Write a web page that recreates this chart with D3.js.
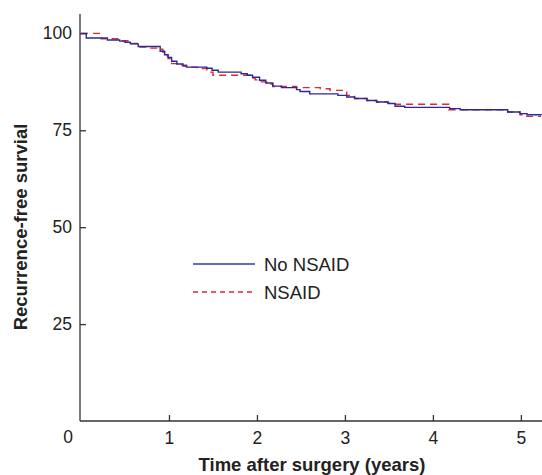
<!DOCTYPE html>
<html>
<head>
<meta charset="utf-8">
<script src="https://cdn.jsdelivr.net/npm/d3@7"></script>
<style>
  body { margin: 0; background: #fff; }
  text { font-family: "Liberation Sans", Arial, sans-serif; fill: #222; }
</style>
</head>
<body>
<svg id="chart" width="542" height="475"></svg>
<script>
// step times (years) and survival (%)
var noNsaidT = [0, 0.06, 0.30, 0.44, 0.50, 0.56, 0.65, 0.90, 0.95, 0.99, 1.03, 1.09, 1.16, 1.20, 1.43, 1.49, 1.56,
  1.82, 1.89, 1.95, 2.03, 2.10, 2.18, 2.28, 2.45, 2.49, 2.60, 2.92, 3.02, 3.11, 3.25, 3.36, 3.49, 3.57, 3.68,
  4.19, 4.31, 4.85, 4.99, 5.07, 5.23];
var noNsaidS = [100, 98.8, 98.3, 98.0, 97.7, 97.3, 96.6, 95.4, 94.5, 93.8, 92.8, 92.1, 91.6, 91.3, 91.0, 90.5, 90.0,
  89.6, 89.2, 88.7, 87.9, 87.2, 86.4, 86.0, 85.5, 85.0, 84.4, 84.0, 83.6, 83.2, 82.7, 82.3, 81.9, 81.2, 80.9,
  80.6, 80.3, 79.7, 79.3, 79.0, 78.9];

var nsaidT = [0, 0.23, 0.44, 0.56, 0.64, 0.78, 0.86, 0.93, 0.97, 0.99, 1.03, 1.09, 1.20, 1.32, 1.43, 1.50,
  1.92, 1.98, 2.03, 2.11, 2.18, 2.45, 2.72, 2.83, 2.97, 3.02, 3.11, 3.25, 3.36, 3.49, 3.57,
  4.18, 4.85, 4.99, 5.05, 5.23];
var nsaidS = [100, 98.6, 98.1, 97.4, 96.5, 96.2, 95.9, 95.2, 94.2, 93.5, 92.2, 91.8, 91.3, 90.9, 90.0, 89.2,
  88.5, 88.0, 87.5, 86.9, 86.3, 86.0, 85.7, 85.3, 84.9, 84.0, 83.2, 82.7, 82.3, 82.0, 81.7,
  80.3, 79.7, 79.0, 78.6, 78.6];

var xTicks = [1, 2, 3, 4, 5];
var yTicks = [25, 50, 75, 100];
var seriesNames = ["No NSAID", "NSAID"];

var svg = d3.select("#chart");
var x = d3.scaleLinear().domain([0, 5.24]).range([81, 542]);
var y = d3.scaleLinear().domain([0, 105]).range([421, 14]);

// axes
var xAxis = svg.append("g").attr("transform", "translate(0,421)")
  .call(d3.axisBottom(x).tickValues(xTicks).tickFormat(d3.format("d"))
    .tickSizeInner(-6).tickSizeOuter(0).tickPadding(11));
var yAxis = svg.append("g").attr("transform", "translate(80,0)")
  .call(d3.axisLeft(y).tickValues(yTicks).tickFormat(d3.format("d"))
    .tickSizeInner(-6).tickSizeOuter(0).tickPadding(8));
svg.selectAll(".domain, .tick line").attr("stroke", "#333").attr("stroke-width", 1.3);
svg.selectAll(".tick text").attr("font-size", 17.5).attr("font-family", "Liberation Sans, Arial, sans-serif").attr("fill", "#222");
xAxis.select(".domain").attr("d", "M80,0H542");
yAxis.select(".domain").attr("d", "M0,421V14");

// shared zero at the corner
svg.append("text").attr("x", 68).attr("y", 443).attr("text-anchor", "middle")
  .attr("font-size", 17.5).text("0");

// titles
svg.append("text").attr("x", 312).attr("y", 471).attr("text-anchor", "middle")
  .attr("font-size", 18.5).attr("font-weight", "bold").text("Time after surgery (years)");
svg.append("text").attr("transform", "translate(27,227)rotate(-90)").attr("text-anchor", "middle")
  .attr("font-size", 18.5).attr("font-weight", "bold").text("Recurrence-free survial");

// curves
var line = d3.line().curve(d3.curveStepAfter)
  .x(function(d) { return x(d[0]); })
  .y(function(d) { return y(d[1]); });

var blueData = noNsaidT.map(function(t, i) { return [t, noNsaidS[i]]; });
var redData = nsaidT.map(function(t, i) { return [t, nsaidS[i]]; });

svg.append("path").datum(redData).attr("d", line)
  .attr("fill", "none").attr("stroke", "#e3262e").attr("stroke-width", 1.4)
  .attr("stroke-dasharray", "7,5");
svg.append("path").datum(blueData).attr("d", line)
  .attr("fill", "none").attr("stroke", "#2a2a96").attr("stroke-width", 1.4);

// legend
var legend = svg.append("g");
var styles = [{c: "#3a3aa0", dash: null}, {c: "#e3262e", dash: "5,4"}];
seriesNames.forEach(function(name, i) {
  var ly = 264 + i * 28;
  legend.append("line").attr("x1", 193).attr("x2", 255).attr("y1", ly).attr("y2", ly)
    .attr("stroke", styles[i].c).attr("stroke-width", 1.3)
    .attr("stroke-dasharray", styles[i].dash);
  legend.append("text").attr("x", 264).attr("y", ly + 6.5).attr("font-size", 18.5).text(name);
});
</script>
</body>
</html>
